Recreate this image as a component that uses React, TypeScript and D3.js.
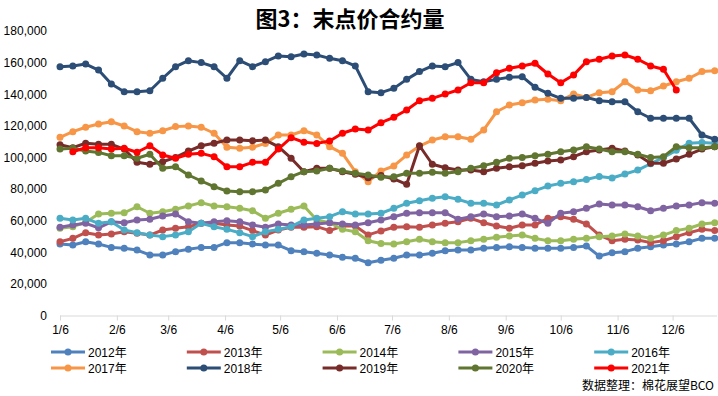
import * as d3 from 'd3';
import { useEffect, useRef } from 'react';

const years = ['2012年', '2013年', '2014年', '2015年', '2016年', '2017年', '2018年', '2019年', '2020年', '2021年'];
const colors = ['#4F81BD', '#C0504D', '#9BBB59', '#8064A2', '#4BACC6', '#F79646', '#2C4D75', '#772C2A', '#5F7530', '#FF0000'];
const tickLabels = ['1/6', '2/6', '3/6', '4/6', '5/6', '6/6', '7/6', '8/6', '9/6', '10/6', '11/6', '12/6'];
const yTicks = [0, 20000, 40000, 60000, 80000, 100000, 120000, 140000, 160000, 180000];

// weekly values, 52 weeks from 1/6
const s2012 = [45200, 44600, 46700, 45200, 43100, 42500, 41400, 38300, 38300, 40400, 41900, 43100, 43100, 46100, 46100, 45200, 44600, 44600, 41000, 40400, 39400, 38300, 36800, 36200, 33400, 35000,
  36200, 38300, 38300, 39400, 41000, 41400, 41400, 42500, 43100, 43500, 43100, 42500, 42500, 42500, 43100, 44000, 37600, 39700, 40400, 42500, 43500, 44600, 45200, 46700, 48800, 48800];
const s2013 = [46700, 48800, 52400, 50900, 51600, 53000, 52000, 50900, 54100, 55200, 56200, 58300, 58300, 57300, 56600, 53700, 50900, 54100, 55800, 55800, 56200, 53700, 56600, 56600, 51000, 53500,
  55800, 56200, 55800, 57300, 58300, 59300, 61500, 58700, 56600, 55200, 57300, 57300, 61500, 62500, 60900, 57900, 50900, 47300, 48200, 47800, 46100, 47300, 49900, 52400, 54500, 53700];
const s2014 = [55200, 56200, 59000, 64200, 64700, 65000, 68800, 64700, 65700, 67200, 69300, 71400, 69300, 68800, 67800, 66300, 61500, 64700, 67200, 69300, 60400, 58700, 54500, 53000, 47300, 45500,
  45200, 46700, 48200, 46700, 46100, 46100, 47300, 48200, 49500, 50300, 50900, 48800, 47300, 47300, 48200, 48800, 49900, 50300, 51600, 50300, 48800, 50900, 53700, 55200, 57900, 58700];
const s2015 = [55800, 57300, 58300, 55500, 59300, 58700, 60400, 60900, 63000, 64200, 59300, 58300, 59300, 60000, 59300, 57300, 55800, 57900, 57300, 57300, 57900, 58700, 57900, 57300, 58700, 60400,
  62500, 64700, 65000, 65000, 65000, 60900, 62500, 64200, 62500, 63000, 64200, 61500, 58300, 64700, 65700, 67800, 70500, 69900, 69900, 68800, 66300, 67800, 69300, 69900, 71400, 71000];
const s2016 = [61500, 60400, 61500, 58300, 59300, 54100, 52400, 50900, 49900, 50900, 53000, 58300, 56200, 54500, 52400, 49900, 53000, 54500, 56200, 60400, 61500, 62500, 65700, 64200, 64200, 64700,
  67800, 71000, 72600, 74200, 75200, 73500, 71000, 71000, 69900, 73100, 76200, 79000, 81900, 83600, 84700, 86000, 88000, 87000, 89500, 92000, 96000, 100000, 104500, 109000, 109500, 109000];
const s2017 = [112700, 116300, 119100, 121200, 122600, 119900, 116300, 115300, 116900, 119500, 119900, 119100, 115300, 106400, 105800, 106400, 108900, 114200, 114200, 116900, 114200, 106800, 102600, 91000, 84700, 91500,
  94600, 101500, 107200, 111000, 113100, 113100, 111500, 117400, 128900, 133200, 134600, 136300, 136800, 135900, 140100, 138000, 141000, 141600, 147900, 142700, 142200, 145200, 147900, 150100, 154300, 154900];
const s2018 = [157400, 157900, 159100, 155300, 146500, 141600, 141600, 142200, 150100, 157400, 161200, 160000, 157400, 150100, 161200, 157400, 160600, 164200, 163700, 165400, 164800, 162700, 161200, 157900, 141600, 141000,
  143700, 149400, 154300, 157900, 157400, 160000, 149400, 147900, 149400, 150700, 151100, 144400, 140600, 137400, 137400, 138000, 135900, 135300, 135300, 128900, 124800, 124800, 124800, 124800, 114200, 111500];
const s2019 = [108000, 106200, 109000, 108300, 108300, 105300, 96900, 95700, 97300, 100000, 104000, 107400, 109000, 111000, 111000, 110500, 111000, 106800, 99500, 91000, 93100, 93100, 91000, 89300, 87200, 88500,
  86400, 83000, 107400, 95700, 93500, 92100, 92100, 91000, 93100, 94100, 94800, 96300, 97700, 98400, 100500, 103600, 104700, 105800, 104100, 101500, 96300, 96300, 99000, 102000, 105300, 106800];
const s2020 = [105300, 105800, 104100, 103200, 101100, 101100, 99500, 102000, 93100, 94100, 88900, 85100, 81500, 78800, 78300, 78300, 79400, 83600, 87800, 91000, 91400, 93100, 91400, 90000, 88900, 87500,
  87800, 90000, 90000, 90600, 90000, 91000, 93100, 94800, 96900, 99500, 99900, 101100, 102000, 103600, 104700, 106800, 105300, 103600, 103600, 102000, 99900, 100500, 106800, 106200, 106200, 106800];
const s2021 = [null, 103600, 106200, 106200, 105300, 105800, 103300, 107400, 101500, 99500, 102000, 102600, 100500, 94100, 94100, 96900, 96900, 105300, 112500, 109600, 108900, 110400, 115300, 118000, 117400, 122000,
  125400, 130000, 135900, 137400, 140100, 142700, 147300, 147300, 153600, 156400, 157900, 159600, 152800, 147300, 152200, 160600, 162100, 164200, 164800, 162100, 157900, 155800, 142700, null, null, null];

const series = [s2012, s2013, s2014, s2015, s2016, s2017, s2018, s2019, s2020, s2021];

const width = 718;
const height = 396;
const start = new Date(2021, 0, 6);
const weeks = s2012.map((_, i) => d3.timeDay.offset(start, 7 * i));
const tickDates = tickLabels.map((t) => {
  const [m, d] = t.split('/').map(Number);
  return new Date(2021, m - 1, d);
});

const numFont = '"Liberation Sans", Arial, sans-serif';
const cjkFont = '"Liberation Sans", "Noto Sans CJK SC", sans-serif';

const App = () => {
  const ref = useRef<SVGSVGElement>(null);

  useEffect(() => {
    const svg = d3.select(ref.current).attr('width', width).attr('height', height);
    svg.selectAll('*').remove();

    const x = d3.scaleTime([start, weeks[weeks.length - 1]], [60, 714.8]);
    const y = d3.scaleLinear([0, 180000], [315.5, 31]);

    // title
    svg.append('text')
      .attr('x', 350).attr('y', 27)
      .attr('text-anchor', 'middle')
      .attr('font-family', '"Noto Sans CJK SC", sans-serif')
      .attr('font-weight', 'bold')
      .attr('font-size', 22)
      .attr('fill', '#000')
      .text('图3：末点价合约量');

    // y axis labels
    const yAxis = svg.append('g').attr('transform', 'translate(47,0)')
      .call(d3.axisLeft(y).tickValues(yTicks).tickFormat(d3.format(',') as any).tickSize(0).tickPadding(0));
    yAxis.select('.domain').remove();
    yAxis.selectAll('text').attr('font-family', numFont).attr('font-size', 12).attr('fill', '#000');

    // x axis
    const xAxis = svg.append('g').attr('transform', 'translate(0,315.5)')
      .call(d3.axisBottom(x).tickValues(tickDates).tickFormat((_, i) => tickLabels[i]).tickSize(5).tickSizeOuter(0).tickPadding(5));
    xAxis.select('.domain').attr('d', 'M60,0.5H717').attr('stroke', '#D9D9D9');
    xAxis.selectAll('line').attr('stroke', '#D9D9D9');
    xAxis.selectAll('text').attr('font-family', numFont).attr('font-size', 12).attr('fill', '#000');

    // lines
    const line = d3.line<number | null>()
      .defined((d) => d != null)
      .x((_, i) => x(weeks[i]))
      .y((d) => y(d as number));

    series.forEach((s, k) => {
      const g = svg.append('g');
      g.append('path')
        .attr('d', line(s))
        .attr('fill', 'none')
        .attr('stroke', colors[k])
        .attr('stroke-width', 3)
        .attr('stroke-linejoin', 'round');
      g.selectAll('circle')
        .data(s.map((v, i) => ({ v, i })).filter((d) => d.v != null))
        .enter()
        .append('circle')
        .attr('cx', (d) => x(weeks[d.i]))
        .attr('cy', (d) => y(d.v as number))
        .attr('r', 3.5)
        .attr('fill', colors[k]);
    });

    // legend
    years.forEach((name, k) => {
      const col = k % 5;
      const row = Math.floor(k / 5);
      const lx = 51 + col * 135.8;
      const ly = 352 + row * 16;
      const g = svg.append('g');
      g.append('line').attr('x1', lx).attr('x2', lx + 34).attr('y1', ly).attr('y2', ly)
        .attr('stroke', colors[k]).attr('stroke-width', 3);
      g.append('circle').attr('cx', lx + 17).attr('cy', ly).attr('r', 3.5).attr('fill', colors[k]);
      g.append('text').attr('x', lx + 37).attr('y', ly + 4.5)
        .attr('font-family', cjkFont).attr('font-size', 12).attr('fill', '#000')
        .text(name);
    });

    svg.append('text')
      .attr('x', 714).attr('y', 390)
      .attr('text-anchor', 'end')
      .attr('font-family', '"Noto Sans CJK SC", sans-serif')
      .attr('font-size', 12)
      .attr('fill', '#000')
      .text('数据整理：棉花展望BCO');
  }, []);

  return (
    <div style={{ position: 'absolute', left: 0, top: 0 }}>
      <svg ref={ref} style={{ display: 'block', background: '#fff' }} />
    </div>
  );
};

export default App;
